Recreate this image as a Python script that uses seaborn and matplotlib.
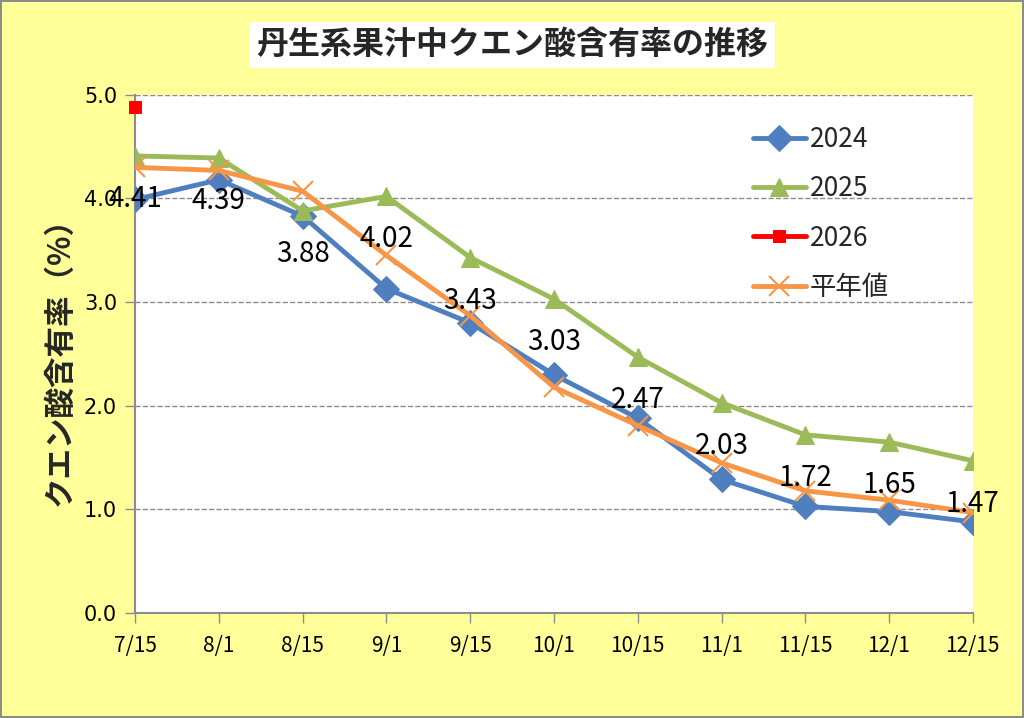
import pandas as pd
import numpy as np
import matplotlib
matplotlib.use('Agg')
import matplotlib.pyplot as plt
import seaborn as sns

sns.set_theme(style='white')
plt.rcParams['font.family'] = ['Noto Sans CJK JP', 'DejaVu Sans']

# data
dates = ['7/15', '8/1', '8/15', '9/1', '9/15', '10/1', '10/15',
         '11/1', '11/15', '12/1', '12/15']
y2024 = [3.99, 4.18, 3.83, 3.13, 2.80, 2.30, 1.88, 1.29, 1.03, 0.98, 0.88]
y2025 = [4.41, 4.39, 3.88, 4.02, 3.43, 3.03, 2.47, 2.03, 1.72, 1.65, 1.47]
y2026 = [4.88]
normal = [4.30, 4.27, 4.07, 3.45, 2.87, 2.18, 1.81, 1.45, 1.18, 1.09, 0.97]

x = np.arange(len(dates))

f, ax = plt.subplots(figsize=(10.24, 7.18), dpi=100)
f.patch.set_facecolor('#FFFF99')
f.patch.set_edgecolor('#8C8C8C')
f.patch.set_linewidth(1.5)
ax.set_facecolor('white')

sns.lineplot(x=x, y=y2024, ax=ax, color='#4F7FBE', lw=3.5, marker='D',
             markersize=13, markeredgecolor='#4F7FBE', label='2024', zorder=3)
sns.lineplot(x=x, y=y2025, ax=ax, color='#9BBB59', lw=3.5, marker='^',
             markersize=13, markeredgecolor='#9BBB59', label='2025', zorder=3)
sns.lineplot(x=x, y=normal, ax=ax, color='#F79646', lw=3.5, marker='x',
             markersize=14, markeredgewidth=1.5, markeredgecolor='#F79646',
             label='平年値', zorder=4)
sns.lineplot(x=x[:len(y2026)], y=y2026, ax=ax, color='#FF0000', lw=3.5,
             marker='s', markersize=9, markeredgecolor='#FF0000',
             label='2026', zorder=5, clip_on=False)

# data labels for 2025
for xi, v in zip(x, y2025):
    ax.annotate(f'{v:.2f}', xy=(xi, v), xytext=(0, -31),
                textcoords='offset points', ha='center', va='center',
                fontsize=20, color='black', zorder=6)

ax.set_xlim(0, len(dates) - 1)
ax.set_ylim(0, 5)
ax.set_xticks(x)
ax.set_xticklabels(dates)
ax.set_yticks([0, 1, 2, 3, 4, 5])
ax.set_yticklabels(['0.0', '1.0', '2.0', '3.0', '4.0', '5.0'],
                   family=['DejaVu Sans'])
ax.tick_params(axis='both', direction='out', length=7, color='#8C8C8C',
               width=1, bottom=True, left=True, labelcolor='black')
ax.tick_params(axis='x', pad=9, labelsize=15)
ax.tick_params(axis='y', pad=6, labelsize=15)
ax.yaxis.grid(True, linestyle='--', color='#8C8C8C', lw=1)
ax.set_axisbelow(True)
for s in ['top', 'right']:
    ax.spines[s].set_visible(False)
for s in ['left', 'bottom']:
    ax.spines[s].set_color('#8C8C8C')
    ax.spines[s].set_linewidth(1.5)

ax.set_ylabel('クエン酸含有率（%）', fontsize=22, fontweight='bold', labelpad=6)
ax.set_xlabel('')

handles, labels = ax.get_legend_handles_labels()
order = [labels.index(k) for k in ['2024', '2025', '2026', '平年値']]
leg = ax.legend([handles[i] for i in order], [labels[i] for i in order],
                loc='upper left', bbox_to_anchor=(0.712, 1 - 102 / 718),
                bbox_transform=f.transFigure, frameon=False,
                fontsize=19, labelspacing=0.85, handlelength=2.0,
                handletextpad=0.15)

f.subplots_adjust(left=0.132, right=0.95, top=0.868, bottom=0.146)
f.text(0.5, 0.937, '丹生系果汁中クエン酸含有率の推移', ha='center', va='center',
       fontsize=23, fontweight='bold',
       bbox=dict(facecolor='white', edgecolor='none', pad=5))

f.savefig('out.png', dpi=100, facecolor=f.get_facecolor(),
          edgecolor=f.get_edgecolor())
